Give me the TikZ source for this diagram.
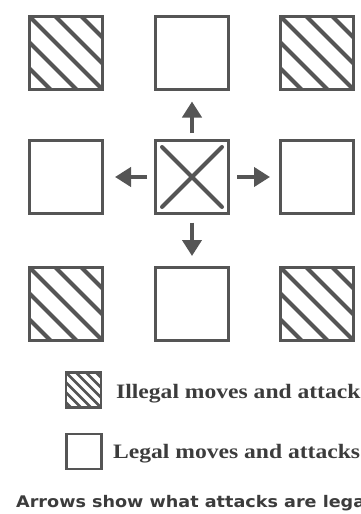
\documentclass[tikz,border=0pt]{standalone}
\usepackage{fontspec}
\newfontfamily\capfont{DejaVu Sans}
\newfontfamily\legfont{Liberation Serif}
\usetikzlibrary{arrows.meta,calc}
\definecolor{ink}{HTML}{555555}
\definecolor{txt}{HTML}{3C3C3C}
\begin{document}
\begin{tikzpicture}[x=1pt,y=-1pt,
  sq/.style={draw=ink, line width=3pt, minimum size=73pt, inner sep=0pt, outer sep=0pt},
  hatch/.style={sq, path picture={
    \foreach \k in {-52,-26,0,26,52}
      \draw[ink, line width=4pt] ($(path picture bounding box.north west)+(\k pt,0pt)$) -- ++(100pt,-100pt);}},
  smallsq/.style={draw=ink, line width=2.5pt, minimum size=35pt, inner sep=0pt, outer sep=0pt},
  smallhatch/.style={smallsq, path picture={
    \foreach \k in {-30,-20,-10,0,10,20,30}
      \draw[ink, line width=2.5pt] ($(path picture bounding box.north west)+(\k pt,0pt)$) -- ++(50pt,-50pt);}},
  arr/.style={draw=ink, line width=4.5pt, -{Triangle[width=19pt,length=16pt]}},
  legendtext/.style={anchor=base west, inner sep=0pt, text=txt, font=\legfont\bfseries\fontsize{20.5}{22}\selectfont},
  captext/.style={anchor=base west, inner sep=0pt, text=txt, font=\capfont\bfseries\fontsize{16}{18}\selectfont}
]
\useasboundingbox (0,0) rectangle (360,514);
\clip (0,0) rectangle (360,514);

% grid of squares
\node[hatch] (tl) at (66,53) {};
\node[sq]    (t)  at (192,53) {};
\node[hatch] (tr) at (317,53) {};
\node[sq]    (l)  at (66,177) {};
\node[sq]    (c)  at (192,177) {};
\node[sq]    (r)  at (317,177) {};
\node[hatch] (bl) at (66,304) {};
\node[sq]    (b)  at (192,304) {};
\node[hatch] (br) at (317,304) {};

% cross in the centre square
\draw[ink, line width=4pt, line cap=round] ($(c)+(-30,-30)$) -- ($(c)+(30,30)$);
\draw[ink, line width=4pt, line cap=round] ($(c)+(30,-30)$) -- ($(c)+(-30,30)$);

% arrows
\draw[arr] ([yshift=7.5pt]c.north) -- ([yshift=-12pt]t.south);
\draw[arr] ([yshift=-9pt]c.south) -- ([yshift=11.5pt]b.north);
\draw[arr] ([xshift=-8.5pt]c.west) -- ([xshift=12.5pt]l.east);
\draw[arr] ([xshift=8.5pt]c.east) -- ([xshift=-10.5pt]r.west);

% legend
\node[smallhatch] (lh) at (83.5,390) {};
\node[legendtext] (lht) at (116,398) {\scalebox{1.15}[1]{Illegal moves and attack}};
\node[smallsq] (lp) at (84,451.5) {};
\node[legendtext] (lpt) at (113,458) {\scalebox{1.15}[1]{Legal moves and attacks}};
\node[captext] (cap) at (16,507) {\scalebox{1.1}[1]{Arrows show what attacks are lega}};
\end{tikzpicture}
\end{document}
